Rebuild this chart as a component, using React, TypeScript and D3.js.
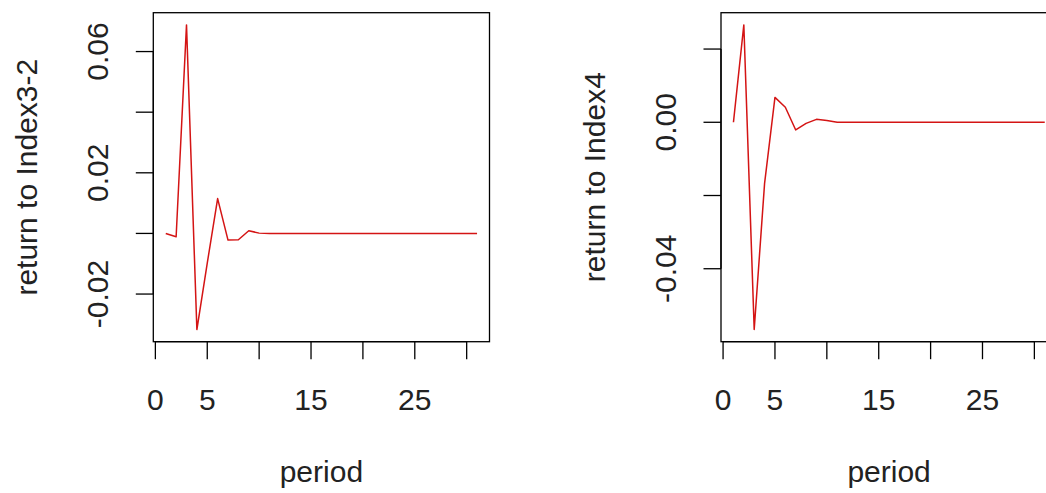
import React from "react";
import * as d3 from "d3";

const periods: number[] = Array.from({ length: 31 }, (_, i) => i + 1);

const index32Values: number[] = [
  0, -0.0011, 0.0688, -0.0317, -0.0098, 0.0115, -0.0022, -0.0021, 0.0009, 0.0001,
  0, 0, 0, 0, 0, 0, 0, 0, 0, 0, 0, 0, 0, 0, 0, 0, 0, 0, 0, 0, 0,
];

const index4Values: number[] = [
  0, 0.0266, -0.0566, -0.0167, 0.0068, 0.0041, -0.0021, -0.0003, 0.0008, 0.0005,
  0, 0, 0, 0, 0, 0, 0, 0, 0, 0, 0, 0, 0, 0, 0, 0, 0, 0, 0, 0, 0,
];

const xTicks: number[] = [0, 5, 10, 15, 20, 25, 30];
const xTickLabels: number[] = [0, 5, 15, 25];

const leftYTicks: number[] = [-0.02, 0, 0.02, 0.04, 0.06];
const leftYTickLabels: string[] = ["-0.02", "", "0.02", "", "0.06"];
const rightYTicks: number[] = [-0.04, -0.02, 0, 0.02];
const rightYTickLabels: string[] = ["-0.04", "", "0.00", ""];

const yLabels: string[] = ["return to Index3-2", "return to Index4"];
const xLabel = "period";

const FONT = "'Liberation Sans', Arial, Helvetica, sans-serif";
const FS = 30;
const TICK = 17.5;

function extend(ext: [number, number]): [number, number] {
  const r = ext[1] - ext[0];
  return [ext[0] - 0.04 * r, ext[1] + 0.04 * r];
}

type PanelProps = {
  left: number;
  right: number;
  top: number;
  bottom: number;
  values: number[];
  yTicks: number[];
  yTickLabels: string[];
  yLabel: string;
};

function Panel({ left, right, top, bottom, values, yTicks, yTickLabels, yLabel }: PanelProps) {
  const x = d3.scaleLinear().domain(extend(d3.extent(periods) as [number, number])).range([left, right]);
  const y = d3.scaleLinear().domain(extend(d3.extent(values) as [number, number])).range([bottom, top]);
  const line = d3
    .line<number>()
    .x((_, i) => x(periods[i]))
    .y((d) => y(d));
  const cy = (top + bottom) / 2;
  const cx = (left + right) / 2;
  const yTickLabelX = left - 45.3;
  const yLabelX = left - 116;
  return (
    <g>
      <path d={line(values) || ""} fill="none" stroke="#d41414" strokeWidth={1.5} strokeLinejoin="round" />
      <rect x={left} y={top} width={right - left} height={bottom - top} fill="none" stroke="#000" strokeWidth={1.3} />
      {/* x axis */}
      <line x1={x(xTicks[0])} x2={x(xTicks[xTicks.length - 1])} y1={bottom} y2={bottom} stroke="#000" strokeWidth={1.3} />
      {xTicks.map((t) => (
        <line key={"xt" + t} x1={x(t)} x2={x(t)} y1={bottom} y2={bottom + TICK} stroke="#000" strokeWidth={1.3} />
      ))}
      {xTickLabels.map((t) => (
        <text key={"xl" + t} x={x(t)} y={410} textAnchor="middle" fontFamily={FONT} fontSize={FS} fill="#222">
          {t}
        </text>
      ))}
      <text x={cx} y={481.5} textAnchor="middle" fontFamily={FONT} fontSize={FS} fill="#222">
        {xLabel}
      </text>
      {/* y axis */}
      <line x1={left} x2={left} y1={y(yTicks[0])} y2={y(yTicks[yTicks.length - 1])} stroke="#000" strokeWidth={1.3} />
      {yTicks.map((t, i) => (
        <g key={"yt" + i}>
          <line x1={left - TICK} x2={left} y1={y(t)} y2={y(t)} stroke="#000" strokeWidth={1.3} />
          {yTickLabels[i] ? (
            <text
              x={yTickLabelX}
              y={y(t)}
              transform={`rotate(-90, ${yTickLabelX}, ${y(t)})`}
              textAnchor="middle"
              fontFamily={FONT}
              fontSize={FS}
              fill="#222"
            >
              {yTickLabels[i]}
            </text>
          ) : null}
        </g>
      ))}
      <text
        x={yLabelX}
        y={cy}
        transform={`rotate(-90, ${yLabelX}, ${cy})`}
        textAnchor="middle"
        fontFamily={FONT}
        fontSize={FS}
        fill="#222"
      >
        {yLabel}
      </text>
    </g>
  );
}

export default function App() {
  return (
    <svg
      width={1046}
      height={493}
      style={{ position: "absolute", left: 0, top: 0, background: "#fff" }}
    >
      <rect x={0} y={0} width={1046} height={493} fill="#fff" />
      <Panel
        left={153.3}
        right={489.5}
        top={12.7}
        bottom={341.7}
        values={index32Values}
        yTicks={leftYTicks}
        yTickLabels={leftYTickLabels}
        yLabel={yLabels[0]}
      />
      <Panel
        left={721}
        right={1057.2}
        top={12.7}
        bottom={341.7}
        values={index4Values}
        yTicks={rightYTicks}
        yTickLabels={rightYTickLabels}
        yLabel={yLabels[1]}
      />
    </svg>
  );
}
